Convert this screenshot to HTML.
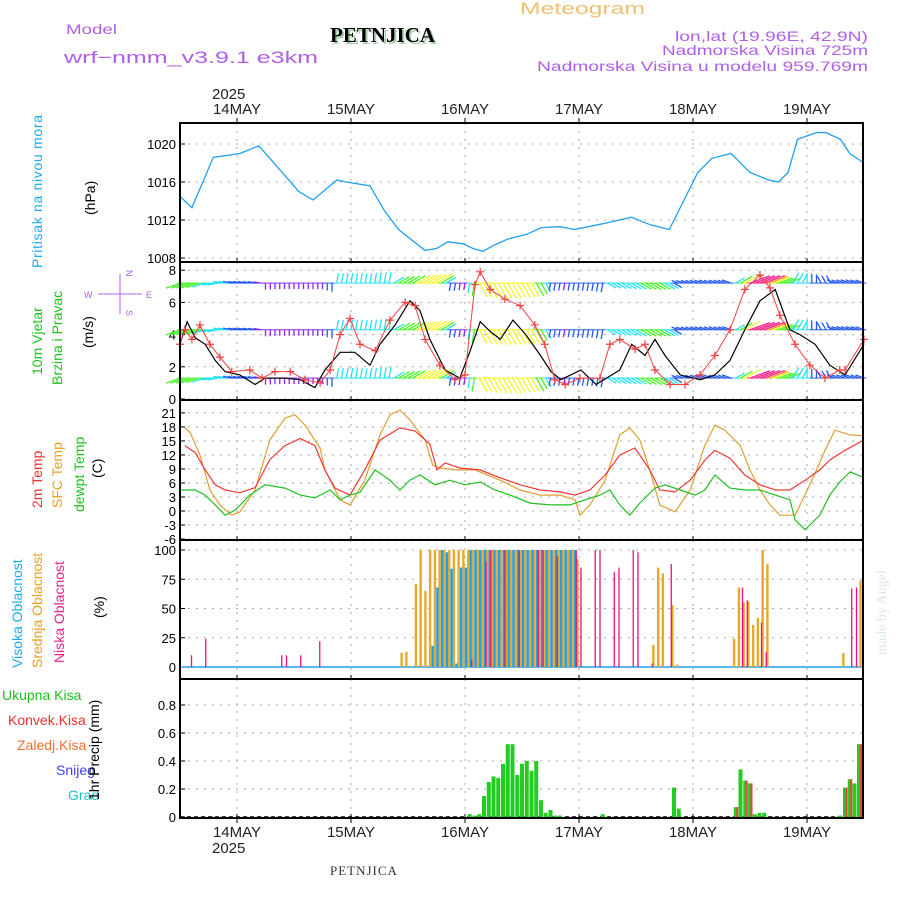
<!DOCTYPE html>
<html><head><meta charset="utf-8">
<style>
body{margin:0;background:#fff;}
svg{display:block;font-family:"Liberation Sans",sans-serif;}
</style></head>
<body>
<svg id="c" width="900" height="900" viewBox="0 0 900 900">
<text x="520" y="14" font-size="17" fill="#f0c070" textLength="125" lengthAdjust="spacingAndGlyphs">Meteogram</text>
<text x="66" y="34" font-size="14" fill="#b060e8" textLength="51" lengthAdjust="spacingAndGlyphs">Model</text>
<text x="64" y="63" font-size="17" fill="#b060e8" textLength="254" lengthAdjust="spacingAndGlyphs">wrf−nmm_v3.9.1 e3km</text>
<text x="332" y="44" font-size="21" font-weight="bold" font-family="Liberation Serif,serif" fill="#a8d0a8">PETNJICA</text>
<text x="330" y="42" font-size="21" font-weight="bold" font-family="Liberation Serif,serif" fill="#000">PETNJICA</text>
<text x="675" y="41" font-size="14" fill="#b060e8" textLength="193" lengthAdjust="spacingAndGlyphs">lon,lat (19.96E, 42.9N)</text>
<text x="662" y="55" font-size="14" fill="#b060e8" textLength="206" lengthAdjust="spacingAndGlyphs">Nadmorska Visina 725m</text>
<text x="537" y="71" font-size="14" fill="#b060e8" textLength="331" lengthAdjust="spacingAndGlyphs">Nadmorska Visina u modelu 959.769m</text>
<text x="212" y="99" font-size="15" fill="#222">2025</text>
<text x="212" y="853" font-size="15" fill="#222">2025</text>
<text x="330" y="875" font-size="13" font-family="Liberation Serif,serif" fill="#333" letter-spacing="1">PETNJICA</text>
<text transform="translate(886,655) rotate(-90)" font-size="14" font-family="Liberation Serif,serif" fill="#dde8dd">made by Angel</text>

<text transform="translate(42,268) rotate(-90)" font-size="14" fill="#20a8f0" textLength="153">Pritisak na nivou mora</text>
<text transform="translate(95,215) rotate(-90)" font-size="14" fill="#000">(hPa)</text>
<text transform="translate(42,375) rotate(-90)" font-size="14" fill="#20c020">10m Vjetar</text>
<text transform="translate(62,385) rotate(-90)" font-size="14" fill="#20c020">Brzina i Pravac</text>
<text transform="translate(93,348) rotate(-90)" font-size="14" fill="#000">(m/s)</text>
<g font-size="9" fill="#b060e8">
<text x="84" y="298">W</text><text x="146" y="298">E</text>
<text transform="translate(126,270) rotate(90)">N</text><text transform="translate(126,310) rotate(90)">S</text>
<line x1="98" y1="294" x2="142" y2="294" stroke="#b060e8"/><line x1="120" y1="274" x2="120" y2="314" stroke="#b060e8"/>
</g>
<text transform="translate(42,508) rotate(-90)" font-size="14" fill="#f03030">2m Temp</text>
<text transform="translate(62,508) rotate(-90)" font-size="14" fill="#e8a020">SFC Temp</text>
<text transform="translate(84,512) rotate(-90)" font-size="14" fill="#20c020">dewpt Temp</text>
<text transform="translate(102,478) rotate(-90)" font-size="14" fill="#000">(C)</text>
<text transform="translate(22,668) rotate(-90)" font-size="14" fill="#20a8f0">Visoka Oblacnost</text>
<text transform="translate(42,668) rotate(-90)" font-size="14" fill="#e8a020">Srednja Oblacnost</text>
<text transform="translate(64,663) rotate(-90)" font-size="14" fill="#f0208a">Niska Oblacnost</text>
<text transform="translate(104,618) rotate(-90)" font-size="14" fill="#000">(%)</text>
<text x="2" y="700" font-size="14" fill="#20c020">Ukupna Kisa</text>
<text x="8" y="725" font-size="14" fill="#f03030">Konvek.Kisa</text>
<text x="17" y="750" font-size="14" fill="#f07030">Zaledj.Kisa</text>
<text x="56" y="775" font-size="14" fill="#4040f0">Snijeg</text>
<text x="68" y="800" font-size="14" fill="#20c0c0">Grad</text>
<text transform="translate(99,800) rotate(-90)" font-size="14" fill="#000">1hr Precip (mm)</text>
<g id="plots"></g>
</svg>
<script>
// ---- data ----
const dayLabels=["14MAY","15MAY","16MAY","17MAY","18MAY","19MAY"];
const dayHours=[12,36,60,84,108,132];
const presHours=[0,2.5,7,12.6,16.6,21,25,28,33,35,40,43,46,49,51.6,54,56.4,59.6,61.7,63.8,65.9,69,73,76,80,83,86,90,95,99,103,105,109,112,116,120,124,126,128,130,134,136,139,141,144];
const presVals=[1014.5,1013.3,1018.6,1019,1019.8,1017.3,1015,1014.1,1016.2,1016,1015.6,1013,1011,1009.8,1008.8,1009,1009.7,1009.5,1009,1008.7,1009.3,1010,1010.5,1011.2,1011.3,1011,1011.3,1011.7,1012.3,1011.5,1011,1013,1017,1018.5,1019,1017,1016.2,1016,1017,1020.5,1021.2,1021.2,1020.5,1019,1018];
const presTicks=[1008,1012,1016,1020];
const spdHours=[0,1.5,3.2,5.3,7.4,9.5,12.6,15.8,17.9,22.1,25.3,28.4,30.5,33.7,36.8,40,42.1,45.3,48.4,50.5,52.6,55.8,58.9,61.1,63.2,65.3,67.4,70.1,72.8,75.9,78.1,80.2,84.4,87.6,92.6,95.1,97.9,100,102.1,105.3,109.5,112.6,115.8,118.9,122.1,125.3,128.4,130.5,133.7,136.8,140,144];
const spdVals=[3.4,4.8,3.8,3.4,2.4,1.7,1.5,0.9,1.3,1.3,1.2,0.7,1.8,2.9,2.9,2.1,3.4,4.6,6.1,5.5,3.7,1.8,1.3,3.0,4.8,4.2,3.7,4.9,4.0,2.7,1.7,1.2,1.8,0.9,1.8,3.4,2.7,3.7,2.7,1.5,1.2,1.5,2.4,4.3,6.1,6.8,4.3,4.0,3.4,2.1,1.5,3.4];
const gustHours=[0,1,2.5,4.2,6.3,8.4,10.9,14.7,17.3,20,23.2,26.3,29.5,31.6,33.7,35.8,37.9,41.1,44.2,47.4,49.5,51.6,54.7,57.9,60,62.1,63.2,65.3,68.4,71.6,74.7,76.8,78.9,81.1,84.2,88.4,90.5,92.6,95.8,97.9,100,103.2,106.3,109.5,112.6,115.8,118.9,122.1,124.2,126.3,129.5,132.6,135.8,138.9,140,144];
const gustVals=[3.4,4.3,3.7,4.6,3.4,2.6,1.7,1.8,1.3,1.7,1.7,1.2,1.0,1.8,4.0,5.0,3.4,3.0,4.9,6.0,5.8,3.7,2.1,1.2,1.5,7.1,7.9,6.8,6.2,5.8,4.6,3.4,1.2,0.9,1.3,1.3,3.4,3.7,3.1,3.4,1.8,0.9,0.9,1.5,2.7,4.3,6.8,7.7,6.9,5.2,3.4,2.1,1.3,1.8,1.8,3.7];
const windSpd=[5,4.5,3,2.5,2,1.8,0.8,0.5,0.5,0.5,0.6,2.5,2.6,2.4,2.8,3.5,4.5,5.5,6.5,1.5,1.0,5.5,6,6.2,5.8,5,1.5,1.2,1.4,1.5,2.5,3,3.5,4,3.5,1.3,1.5,1.8,1.6,2.5,8,8.5,5,3.5,2.5,1.5,2,2.2,2];
const windDir=[200,200,190,170,170,170,-90,-90,-90,-90,-90,80,80,80,80,30,30,30,30,-100,-100,-60,-60,-60,-60,-60,-100,-100,-100,-100,-30,-30,-30,-30,-30,160,160,160,160,30,20,20,20,60,90,120,160,160,160];
const windBands=[7.2,4.3,1.3];
const t2Hours=[1,3.2,5.3,7.4,9.5,12.6,15.8,18.9,22.1,25.3,28.4,30.5,32.6,35.8,38.9,42.1,46.3,49.5,52.6,54.1,55.8,58.9,63.2,67.4,71.6,75.8,80,83.2,86.3,89.5,92.6,95.8,98.9,101,104.2,107.4,110.5,112.6,115.8,118.9,122.1,125.3,128.4,131.6,134.7,136.8,140,144];
const t2Vals=[14,12.5,8.8,5.6,4.5,3.9,5,11,14,15.5,14,8.8,4.9,3.4,8.8,15.2,17.8,17.1,14.3,8.8,10.3,9.2,8.8,7.1,5.6,4.5,4.1,3.4,4.5,7.7,12,13.5,8.8,4.5,4.1,6.6,10.9,13,11.3,7.7,5.6,4.5,4.5,6.6,8.8,10.9,13,15.2];
const sfcHours=[1,2.1,4.2,6.3,8.4,10.9,12.6,15.8,18.9,22.1,24.2,26.3,29.5,30.5,31.6,33.7,35.8,38.9,42.1,44.2,46.3,48.4,51.6,53.2,54.7,57.9,62.1,67.4,71.6,75.8,80,83.2,84.2,86.3,89.5,92.6,94.7,96.8,98.9,101,104.2,107.4,110.5,112.6,114.7,117.9,120,122.1,124.2,126.3,129.5,132.6,135.8,137.9,141.1,144];
const sfcVals=[17.8,16.9,12,4.5,1.3,-0.9,-0.2,4.5,15.2,19.9,20.6,18.4,13.5,8.8,6.6,2.4,1.3,6.6,16.3,20.6,21.6,19.5,15.2,9.8,9.2,8.8,8.8,6.6,4.5,3.4,3.4,2.4,-0.9,1.3,6.6,16.3,17.8,15.2,8.8,1.3,-0.2,4.5,14.1,18.4,17.3,14.1,8.8,4.5,1.3,-0.9,-0.9,5.6,13,17.3,16.3,16.1];
const tdHours=[0,3.2,5.3,7.4,9.5,11.6,14.7,17.9,22.1,25.3,28.4,31.6,33.7,35.8,37.9,41.1,44.2,46.3,48.4,50.5,53.7,56.8,60,63.2,66.3,69.5,73.7,77.9,82.1,85.3,88.4,90.5,92.6,94.7,96.8,100,102.1,105.3,108.4,110.5,112.6,115.8,118.9,122.1,125.3,128.4,129.5,131.6,134.7,136.8,138.9,141.1,144];
const tdVals=[4.5,4.5,3.4,1.3,-0.9,0.2,3.4,5.6,4.9,3.4,2.8,4.5,2.4,3.4,4,8.8,6.6,4.5,6.6,7.7,5.6,6.6,5.6,6.2,4.5,3.4,1.7,1.3,1.3,2.4,3.4,4.5,1.3,-0.9,1.7,4.9,5.6,4.5,3.4,4.5,7.7,4.9,4.5,4.5,3.4,2.4,-1.9,-4,-0.9,3.4,6.2,8.4,7.1];
const tempTicks=[-6,-3,0,3,6,9,12,15,18,21];
const midHours=[47,48,50,51,52,53,54,55,56,57,58,59,60,61,62,63,64,65,66,67,68,69,70,71,72,73,74,75,76,77,78,79,80,81,82,83,84,100,101,102,104,105,117,118,119,120,121,122,123,124,140,143.6];
const midVals=[12,13,71,100,65,100,100,100,100,100,100,100,100,100,100,100,100,100,100,100,100,100,100,100,100,100,100,100,100,100,100,100,100,100,100,100,92,19,85,80,53,2,24,68,55,56,36,42,100,88,12,74];
const highHours=[53,54,55,56,57,58,59,60,61,62,63,64,65,66,67,68,69,70,71,72,73,74,75,76,77,78,79,80,81,82,83];
const highVals=[18,68,100,98,84,3,85,85,100,100,100,100,100,100,100,100,100,100,100,100,100,100,100,100,100,100,100,100,100,100,100];
const lowHours=[2,5,21,22,25,29,61,64,65,68,71,75,76,79,83,84,87,88,91,92,95,96,99,103,118,119,122,123,141,142];
const lowVals=[10,24,10,10,10,22,6,90,100,100,100,100,100,95,100,85,100,100,81,85,100,98,3,88,68,57,38,13,67,68];
const cloudTicks=[0,25,50,75,100];
const rainHours=[61,62,63,64,65,66,67,68,69,70,71,72,73,74,75,76,77,78,79,80,89,104,105,117,118,119,120,121,122,123,139,140,141,142,143,144];
const rainVals=[0.02,0.01,0.02,0.15,0.25,0.29,0.28,0.38,0.52,0.52,0.3,0.38,0.4,0.33,0.4,0.12,0.03,0.05,0.01,0.01,0.02,0.21,0.06,0.07,0.34,0.26,0.24,0.02,0.03,0.03,0.01,0.21,0.27,0.24,0.32,0.52];
const convHours=[117,119,120,140,141,143,144];
const convVals=[0.07,0.26,0.24,0.21,0.27,0.32,0.52];
const precipTicks=[0,0.2,0.4,0.6,0.8];

// ---- helpers ----
const NS="http://www.w3.org/2000/svg";
const root=document.getElementById('plots');
function mk(tag,attrs,parent){const e=document.createElementNS(NS,tag);for(const k in attrs)e.setAttribute(k,attrs[k]);(parent||root).appendChild(e);return e;}
const L=180,R=863;
const X=h=>L+h*4.75;
const panels={
 p:{top:123,bot:262,y:v=>258-(v-1008)*9.5},
 w:{top:262,bot:400,y:v=>399-v*16.1},
 t:{top:400,bot:540,y:v=>511-v*4.67},
 c:{top:540,bot:679,y:v=>667-v*1.17},
 r:{top:679,bot:818,y:v=>817-v*140}
};
function grid(p,ticks,fmt,name){
  const g=mk('g',{});
  
  
  ticks.forEach(t=>{const y=p.y(t);
    mk('line',{x1:L,x2:R,y1:y,y2:y,stroke:'#aaa','stroke-dasharray':'2,6'},g);
    mk('line',{x1:L,x2:L+5,y1:y,y2:y,stroke:'#000'},g);
    const tx=mk('text',{x:L-4,y:y+5,'font-size':13,'text-anchor':'end',fill:'#000'},g);tx.textContent=fmt(t);});
  dayHours.forEach(h=>{mk('line',{x1:X(h),x2:X(h),y1:p.top,y2:p.bot,stroke:'#aaa','stroke-dasharray':'2,6'},g);
    mk('line',{x1:X(h),x2:X(h),y1:p.bot-4,y2:p.bot,stroke:'#000'},g);});
}
function line(hs,vs,p,color,name,w){
  const d=hs.map((h,i)=>(i?'L':'M')+X(h).toFixed(1)+','+p.y(vs[i]).toFixed(1)).join('');
  const e=mk('path',{d:d,fill:'none',stroke:color,'stroke-width':w||1.2});
  
  
}
function bars(hs,vs,p,color,w,off,name){
  const g=mk('g',{});
  
  
  hs.forEach((h,i)=>{const y=p.y(vs[i]);const x=Math.min(X(h)+off,R-w);
    mk('rect',{x:x-w/2,y:y,width:w,height:Math.max(0,p.y(0)-y),fill:color},g);});
}
grid(panels.p,presTicks,v=>v,'pressure');
grid(panels.w,[0,2,4,6,8],v=>v,'wind');
grid(panels.t,tempTicks,v=>v,'temperature');
grid(panels.c,cloudTicks,v=>v,'cloud');
grid(panels.r,precipTicks,v=>v?v.toFixed(1):'0','precip');

line(presHours,presVals,panels.p,'#1fa0f0','pressure-line',1.3);
function hue(s){if(s>7.5)return 330;if(s>6.5)return 35;if(s>5)return 60;if(s>3.5)return 110;if(s>2.2)return 185;if(s>1.2)return 225;return 270;}
const wg=mk('g',{});


windBands.forEach((b,bi)=>{
  for(let h=0;h<=144;h++){
    const i=Math.min(48,Math.floor(h/3));const f=(h%3)/3;const j=Math.min(48,i+1);
    const s=windSpd[i]*(1-f)+windSpd[j]*f;const dir=windDir[i];
    const len=5+s*2;const a=dir*Math.PI/180;
    const x0=X(h),y0=panels.w.y(b);
    const x1=x0+Math.cos(a)*len,y1=y0-Math.sin(a)*len;
    const col='hsl('+hue(s)+',90%,55%)';
    mk('line',{x1:x0,y1:y0,x2:x1,y2:y1,stroke:col,'stroke-width':1.3},wg);
    mk('line',{x1:x0-2.4,y1:y0,x2:x0+2.4,y2:y0,stroke:col,'stroke-width':1},wg);
  }
});
line(spdHours,spdVals,panels.w,'#000','wind-speed-line',1.2);
line(gustHours,gustVals,panels.w,'#f04040','wind-gust-line',1);
const gg=mk('g',{});


gustHours.forEach((h,i)=>{const x=X(h),y=panels.w.y(gustVals[i]);
  mk('path',{d:`M${x-4},${y}H${x+4}M${x},${y-4}V${y+4}`,stroke:'#f04040','stroke-width':1.2},gg);});
line(sfcHours,sfcVals,panels.t,'#e0a030','sfc-temp-line',1.2);
line(t2Hours,t2Vals,panels.t,'#f03838','temp-2m-line',1.2);
line(tdHours,tdVals,panels.t,'#20c020','dewpoint-line',1.2);
mk('line',{x1:L,x2:R,y1:panels.c.y(0),y2:panels.c.y(0),stroke:'#20a0f0','stroke-width':1.5});
bars(midHours,midVals,panels.c,'#e8a828',2.4,-1.6,'mid-cloud-bars');
bars(highHours,highVals,panels.c,'#1ea0f0',2.4,0.9,'high-cloud-bars');
bars(lowHours,lowVals,panels.c,'#f0107a',1.3,2,'low-cloud-bars');
mk('line',{x1:L,x2:R,y1:panels.r.y(0),y2:panels.r.y(0),stroke:'#000','stroke-width':1.5,'stroke-dasharray':'4,3'});
bars(rainHours,rainVals,panels.r,'#22cc22',4,0,'total-precip-bars');
bars(convHours,convVals,panels.r,'#f04040',2,1.5,'convective-precip-bars');
['p','w','t','c','r'].forEach(k=>{const p=panels[k];
  const f=mk('rect',{x:L,y:p.top,width:R-L,height:p.bot-p.top,fill:'none',stroke:'#000','stroke-width':2});
  
  });
dayLabels.forEach((d,i)=>{const x=X(dayHours[i]);
  const t1=mk('text',{x:x,y:114,'font-size':15,'text-anchor':'middle',fill:'#222'});t1.textContent=d;
  
  
  mk('line',{x1:x,x2:x,y1:118,y2:123,stroke:'#000'});
  const t2=mk('text',{x:x,y:837,'font-size':15,'text-anchor':'middle',fill:'#222'});t2.textContent=d;
  
  
  mk('line',{x1:x,x2:x,y1:818,y2:823,stroke:'#000'});});
</script>
</body></html>
